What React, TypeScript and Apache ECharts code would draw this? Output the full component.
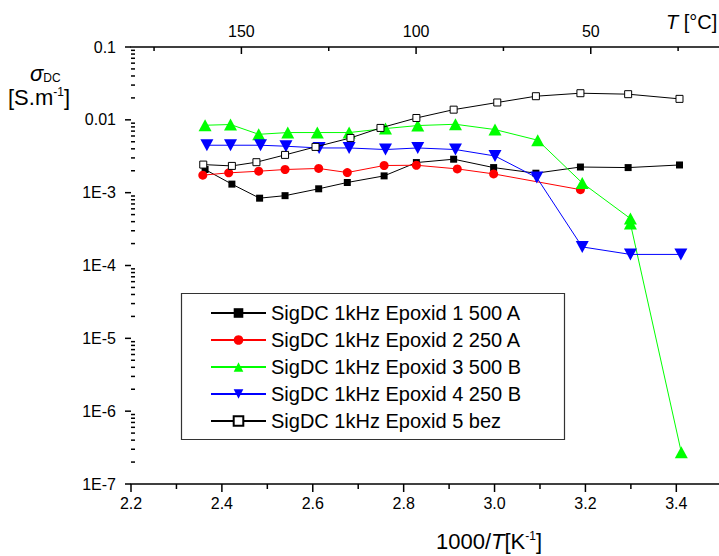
import { useEffect, useRef } from 'react';
import * as echarts from 'echarts';

const FONT = '"Liberation Sans", Arial, Helvetica, sans-serif';

const seriesNames = [
  'SigDC 1kHz Epoxid 1 500 A',
  'SigDC 1kHz Epoxid 2 250 A',
  'SigDC 1kHz Epoxid 3 500 B',
  'SigDC 1kHz Epoxid 4 250 B',
  'SigDC 1kHz Epoxid 5 bez',
];

const xEp1 = [2.363, 2.422, 2.483, 2.539, 2.613, 2.676, 2.757, 2.828, 2.91, 2.998, 3.091, 3.189, 3.294, 3.407];
const yEp1 = [2.08e-3, 1.31e-3, 8.4e-4, 9.1e-4, 1.13e-3, 1.38e-3, 1.7e-3, 2.59e-3, 2.88e-3, 2.21e-3, 1.85e-3, 2.25e-3, 2.21e-3, 2.4e-3];

const xEp2 = [2.358, 2.415, 2.481, 2.539, 2.613, 2.676, 2.757, 2.828, 2.918, 2.998, 3.189];
const yEp2 = [1.74e-3, 1.87e-3, 1.97e-3, 2.08e-3, 2.15e-3, 1.89e-3, 2.36e-3, 2.38e-3, 2.12e-3, 1.81e-3, 1.1e-3];

const xEp3 = [2.363, 2.419, 2.481, 2.545, 2.61, 2.68, 2.76, 2.831, 2.914, 3.001, 3.095, 3.193, 3.299, 3.299, 3.411];
const yEp3 = [8.43e-3, 8.62e-3, 6.33e-3, 6.69e-3, 6.69e-3, 6.69e-3, 7.59e-3, 8.35e-3, 8.69e-3, 7.35e-3, 5.25e-3, 1.36e-3, 4.41e-4, 3.77e-4, 2.72e-7];

const xEp4 = [2.367, 2.419, 2.485, 2.541, 2.614, 2.68, 2.76, 2.831, 2.914, 3.001, 3.093, 3.193, 3.299, 3.41];
const yEp4 = [4.48e-3, 4.48e-3, 4.48e-3, 4.34e-3, 4.11e-3, 4.11e-3, 3.91e-3, 4.11e-3, 3.91e-3, 3.19e-3, 1.61e-3, 1.8e-4, 1.42e-4, 1.42e-4];

const xEp5 = [2.359, 2.422, 2.476, 2.539, 2.606, 2.683, 2.749, 2.828, 2.91, 3.006, 3.091, 3.189, 3.294, 3.407];
const yEp5 = [2.43e-3, 2.33e-3, 2.62e-3, 3.3e-3, 4.25e-3, 5.64e-3, 7.74e-3, 1.06e-2, 1.38e-2, 1.73e-2, 2.11e-2, 2.32e-2, 2.25e-2, 1.94e-2];

const yDecades = [-7, -6, -5, -4, -3, -2, -1];
const yTickLabels = ['1E-7', '1E-6', '1E-5', '1E-4', '1E-3', '0.01', '0.1'];
const xMajorTicks = [2.2, 2.4, 2.6, 2.8, 3.0, 3.2, 3.4];
const xMinorTicks = [2.3, 2.5, 2.7, 2.9, 3.1, 3.3];
const topMajorTicks = [50, 100, 150];
const topMinorTicks = [25, 75, 125, 175];
const logMinorMultipliers = [2, 3, 4, 5, 6, 7, 8, 9];

const X_MIN = 2.2;
const X_MAX = 3.6;
const Y_MIN = 1e-7;
const Y_MAX = 0.1;
const T_LEFT = 181.6;
const T_RIGHT = -0.5;
const TICK_W = 1.5;

function pairs(xs: number[], ys: number[]) {
  return xs.map((x, i) => [x, ys[i]]);
}

function tToX(t: number) {
  return X_MIN + ((T_LEFT - t) / (T_LEFT - T_RIGHT)) * (X_MAX - X_MIN);
}

export default function App() {
  const ref = useRef<HTMLDivElement>(null);
  useEffect(() => {
    if (!ref.current) return;
    const chart = echarts.init(ref.current, null, { renderer: 'svg' });
    const base = (name: string, xs: number[], ys: number[], color: string, symbol: string, size: any, extra: any = {}) => ({
      type: 'line',
      name,
      data: pairs(xs, ys),
      xAxisIndex: 0,
      yAxisIndex: 0,
      symbol,
      symbolSize: size,
      showAllSymbol: true,
      lineStyle: { color: extra.lineColor || color, width: 1 },
      itemStyle: { color, borderColor: extra.borderColor || color, borderWidth: extra.borderWidth || 0 },
      symbolRotate: extra.rotate || 0,
      z: extra.z || 2,
    });

    const labelGraphics: any[] = [
      {
        type: 'rect',
        shape: { x: 181.5, y: 293.5, width: 383, height: 146 },
        style: { fill: 'none', stroke: '#333', lineWidth: 1.2 },
        z: 10,
      },
      {
        type: 'text',
        x: 666,
        y: 22,
        style: {
          text: '{i|T}{n| [°C]}',
          verticalAlign: 'middle',
          fill: '#000',
          rich: {
            i: { fontStyle: 'italic', fontSize: 20, fontFamily: FONT, fill: '#000' },
            n: { fontSize: 20, fontFamily: FONT, fill: '#000' },
          },
        },
      },
      {
        type: 'text',
        x: 436,
        y: 541,
        style: {
          text: '{n|1000/}{i|T}{n|[K}{s|-1}{n|]}',
          verticalAlign: 'middle',
          fill: '#000',
          rich: {
            i: { fontStyle: 'italic', fontSize: 22, fontFamily: FONT, fill: '#000' },
            n: { fontSize: 22, fontFamily: FONT, fill: '#000' },
            s: { fontSize: 12, fontFamily: FONT, fill: '#000', verticalAlign: 'top' },
          },
        },
      },
      {
        type: 'text',
        x: 30,
        y: 73,
        style: {
          text: '{i|σ}{b|DC}',
          verticalAlign: 'middle',
          fill: '#000',
          rich: {
            i: { fontStyle: 'italic', fontSize: 22, fontFamily: FONT, fill: '#000' },
            b: { fontSize: 12, fontFamily: FONT, fill: '#000', verticalAlign: 'bottom' },
          },
        },
      },
      {
        type: 'text',
        x: 8,
        y: 97,
        style: {
          text: '{n|[S.m}{s|-1}{n|]}',
          verticalAlign: 'middle',
          fill: '#000',
          rich: {
            n: { fontSize: 22, fontFamily: FONT, fill: '#000' },
            s: { fontSize: 12, fontFamily: FONT, fill: '#000', verticalAlign: 'top' },
          },
        },
      },
    ];

    chart.setOption({
      animation: false,
      backgroundColor: '#fff',
      textStyle: { fontFamily: FONT },
      grid: { left: 131, top: 47, right: 800 - 767.2, bottom: 556 - 484, containLabel: false },
      legend: {
        orient: 'vertical',
        left: 210,
        top: 303,
        padding: 0,
        itemWidth: 55,
        itemHeight: 12,
        itemGap: 7,
        textStyle: { fontSize: 20, fontFamily: FONT, color: '#000' },
        data: seriesNames,
      },
      xAxis: [
        {
          type: 'value',
          position: 'bottom',
          min: X_MIN,
          max: X_MAX,
          interval: 0.2,
          axisLine: { show: true, lineStyle: { color: '#000', width: 1.5 } },
          axisTick: { show: false },
          splitLine: { show: false },
          axisLabel: {
            margin: 11,
            fontSize: 16,
            color: '#000',
            fontFamily: FONT,
            showMaxLabel: false,
            formatter: (v: number) => v.toFixed(1),
          },
        },
        {
          type: 'value',
          position: 'top',
          inverse: true,
          min: T_RIGHT,
          max: T_LEFT,
          minInterval: 50,
          maxInterval: 50,
          axisLine: { show: true, lineStyle: { color: '#000', width: 1.5 } },
          axisTick: { show: false },
          splitLine: { show: false },
          axisLabel: {
            margin: 8,
            fontSize: 16,
            color: '#000',
            fontFamily: FONT,
            showMinLabel: false,
            showMaxLabel: false,
            formatter: (v: number) => (topMajorTicks.indexOf(v) >= 0 ? String(v) : ''),
          },
        },
      ],
      yAxis: [
        {
          type: 'log',
          position: 'left',
          logBase: 10,
          min: Y_MIN,
          max: Y_MAX,
          interval: 1,
          axisLine: { show: true, lineStyle: { color: '#000', width: 1.5 } },
          axisTick: { show: false },
          splitLine: { show: false },
          axisLabel: {
            margin: 15,
            fontSize: 16,
            color: '#000',
            fontFamily: FONT,
            formatter: (v: number) => {
              const k = yDecades.indexOf(Math.round(Math.log10(v)));
              return k >= 0 ? yTickLabels[k] : '';
            },
          },
        },
      ],
      series: [
        base(seriesNames[0], xEp1, yEp1, '#000000', 'rect', 7),
        base(seriesNames[1], xEp2, yEp2, '#ff0000', 'circle', 9),
        base(seriesNames[2], xEp3, yEp3, '#00ff00', 'triangle', [13, 12]),
        base(seriesNames[3], xEp4, yEp4, '#0000ff', 'triangle', [13, 12], { rotate: 180 }),
        base(seriesNames[4], xEp5, yEp5, '#ffffff', 'rect', 7, { lineColor: '#000', borderColor: '#000', borderWidth: 1, z: 3 }),
      ],
      graphic: labelGraphics,
    });

    // Tick marks placed through the chart's own scales
    const ticks: any[] = [];
    try {
      const px = (x: number, y: number) => chart.convertToPixel({ xAxisIndex: 0, yAxisIndex: 0 }, [x, y]) as number[];
      const vtick = (x: number, y0: number, len: number) =>
        ticks.push({
          type: 'rect',
          silent: true,
          z: 20,
          shape: { x: x - TICK_W / 2, y: len > 0 ? y0 : y0 + len, width: TICK_W, height: Math.abs(len) },
          style: { fill: '#000' },
        });
      const htick = (x0: number, y: number, len: number) =>
        ticks.push({
          type: 'rect',
          silent: true,
          z: 20,
          shape: { x: len > 0 ? x0 : x0 + len, y: y - TICK_W / 2, width: Math.abs(len), height: TICK_W },
          style: { fill: '#000' },
        });
      const p0 = px(X_MIN, Y_MIN);
      const bottomY = p0[1];
      const topY = px(X_MIN, Y_MAX)[1];
      const leftX = p0[0];
      xMajorTicks.forEach((v) => vtick(px(v, Y_MIN)[0], bottomY, 8));
      xMinorTicks.forEach((v) => vtick(px(v, Y_MIN)[0], bottomY, 5));
      topMajorTicks.forEach((t) => vtick(px(tToX(t), Y_MAX)[0], topY, 7));
      topMinorTicks.forEach((t) => vtick(px(tToX(t), Y_MAX)[0], topY, 4));
      yDecades.forEach((d) => {
        htick(leftX, px(X_MIN, Math.pow(10, d))[1], -6);
        if (d < -1) {
          logMinorMultipliers.forEach((m) => htick(leftX, px(X_MIN, m * Math.pow(10, d))[1], 4));
        }
      });
    } catch (e) {
      // leave ticks out if conversion fails
    }
    chart.setOption({ graphic: labelGraphics.concat(ticks) });

    return () => chart.dispose();
  }, []);
  return <div ref={ref} style={{ position: 'fixed', left: 0, top: 0, width: 800, height: 556 }} />;
}
